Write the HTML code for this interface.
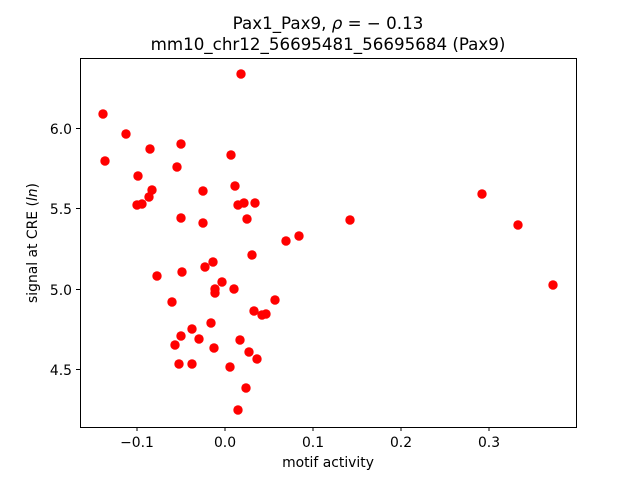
<!DOCTYPE html>
<html><head><style>body{margin:0;background:#fff}svg{display:block}text{font-family:"DejaVu Sans","Liberation Sans",sans-serif;fill:#000}</style></head><body>
<svg width="640" height="480" viewBox="0 0 640 480" xmlns="http://www.w3.org/2000/svg">
<rect width="640" height="480" fill="#fff"/>
<text x="328" y="29" font-size="16.7" text-anchor="middle">Pax1_Pax9, <tspan font-style="italic">ρ</tspan> = − 0.13</text>
<text x="328" y="50" font-size="16.7" text-anchor="middle">mm10_chr12_56695481_56695684 (Pax9)</text>
<g fill="#ff0000">
<circle cx="103" cy="114" r="4.7"/><circle cx="126" cy="134" r="4.7"/><circle cx="105" cy="161" r="4.7"/><circle cx="241" cy="74" r="4.7"/>
<circle cx="150" cy="149" r="4.7"/><circle cx="181" cy="144" r="4.7"/><circle cx="138" cy="176" r="4.7"/><circle cx="231" cy="155" r="4.7"/>
<circle cx="177" cy="167" r="4.7"/><circle cx="152" cy="190" r="4.7"/><circle cx="149" cy="197" r="4.7"/><circle cx="137" cy="205" r="4.7"/>
<circle cx="142" cy="204" r="4.7"/><circle cx="203" cy="191" r="4.7"/><circle cx="235" cy="186" r="4.7"/><circle cx="238" cy="205" r="4.7"/>
<circle cx="244" cy="203" r="4.7"/><circle cx="255" cy="203" r="4.7"/><circle cx="181" cy="218" r="4.7"/><circle cx="203" cy="223" r="4.7"/>
<circle cx="247" cy="219" r="4.7"/><circle cx="286" cy="241" r="4.7"/><circle cx="299" cy="236" r="4.7"/><circle cx="252" cy="255" r="4.7"/>
<circle cx="213" cy="262" r="4.7"/><circle cx="205" cy="267" r="4.7"/><circle cx="182" cy="272" r="4.7"/><circle cx="157" cy="276" r="4.7"/>
<circle cx="222" cy="282" r="4.7"/><circle cx="215" cy="289" r="4.7"/><circle cx="215" cy="293" r="4.7"/><circle cx="234" cy="289" r="4.7"/>
<circle cx="172" cy="302" r="4.7"/><circle cx="275" cy="300" r="4.7"/><circle cx="254" cy="311" r="4.7"/><circle cx="262" cy="315" r="4.7"/>
<circle cx="266" cy="314" r="4.7"/><circle cx="211" cy="323" r="4.7"/><circle cx="192" cy="329" r="4.7"/><circle cx="181" cy="336" r="4.7"/>
<circle cx="199" cy="339" r="4.7"/><circle cx="175" cy="345" r="4.7"/><circle cx="214" cy="348" r="4.7"/><circle cx="240" cy="340" r="4.7"/>
<circle cx="249" cy="352" r="4.7"/><circle cx="257" cy="359" r="4.7"/><circle cx="179" cy="364" r="4.7"/><circle cx="192" cy="364" r="4.7"/>
<circle cx="230" cy="367" r="4.7"/><circle cx="246" cy="388" r="4.7"/><circle cx="238" cy="410" r="4.7"/>
<circle cx="350" cy="220" r="4.7"/><circle cx="482" cy="194" r="4.7"/><circle cx="518" cy="225" r="4.7"/><circle cx="553" cy="285" r="4.7"/>
</g>
<rect x="80.5" y="58.5" width="496" height="369" fill="none" stroke="#000" stroke-width="1"/>
<g stroke="#000" stroke-width="1">
<line x1="137" y1="427" x2="137" y2="431"/><line x1="225" y1="427" x2="225" y2="431"/><line x1="313" y1="427" x2="313" y2="431"/><line x1="401" y1="427" x2="401" y2="431"/><line x1="489" y1="427" x2="489" y2="431"/>
<line x1="76" y1="128.5" x2="80" y2="128.5"/><line x1="76" y1="208.5" x2="80" y2="208.5"/><line x1="76" y1="289.5" x2="80" y2="289.5"/><line x1="76" y1="369.5" x2="80" y2="369.5"/>
</g>
<g font-size="13.9" text-anchor="middle">
<text x="137" y="447">−0.1</text><text x="225" y="447">0.0</text><text x="313" y="447">0.1</text><text x="401" y="447">0.2</text><text x="489" y="447">0.3</text>
</g>
<g font-size="13.9" text-anchor="end">
<text x="72" y="134">6.0</text><text x="72" y="214">5.5</text><text x="72" y="295">5.0</text><text x="72" y="375">4.5</text>
</g>
<text x="328" y="467" font-size="13.9" text-anchor="middle">motif activity</text>
<text transform="translate(37,243) rotate(-90)" font-size="13.9" text-anchor="middle">signal at CRE (<tspan font-style="italic">ln</tspan>)</text>
</svg>
</body></html>
